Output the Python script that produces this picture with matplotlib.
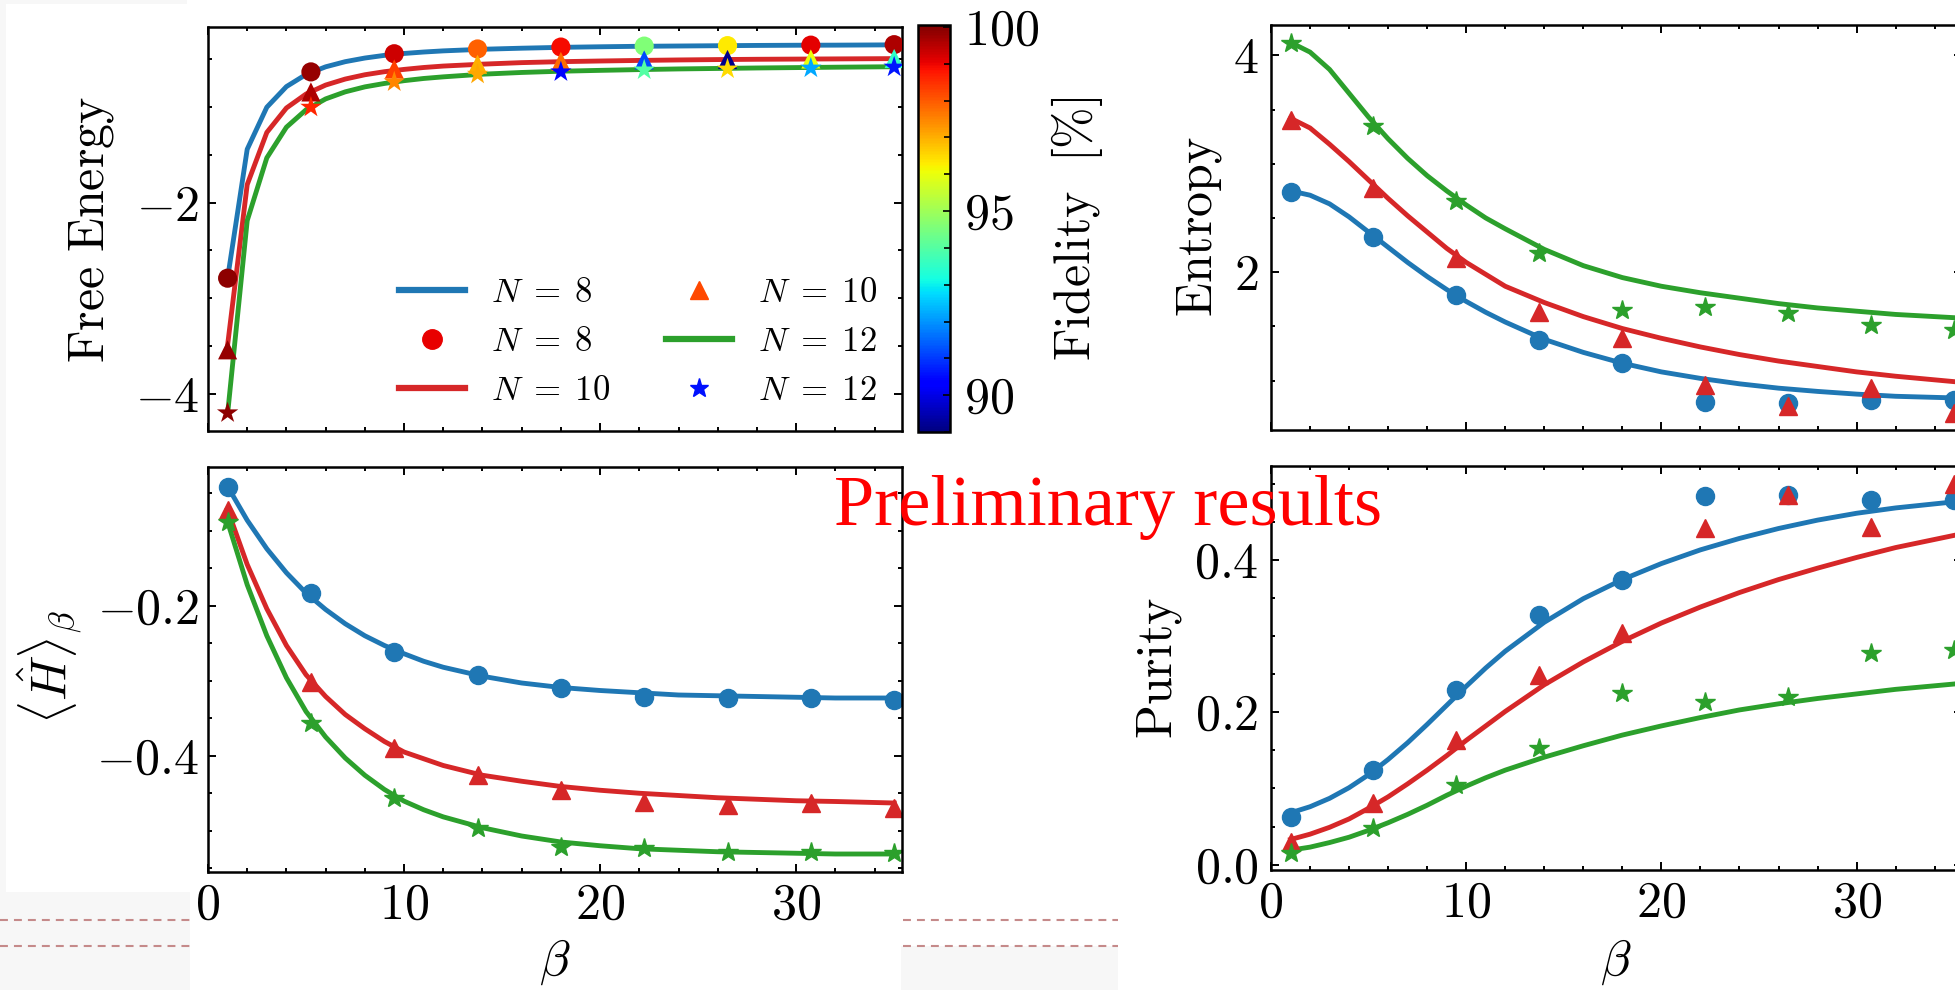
import matplotlib
matplotlib.use('Agg')
import matplotlib.pyplot as plt
from matplotlib.lines import Line2D
from matplotlib.patches import Rectangle
from matplotlib.ticker import MultipleLocator
from matplotlib.colors import Normalize

plt.rcParams['font.family'] = 'serif'
plt.rcParams['font.serif'] = ['cmr10']
plt.rcParams['mathtext.fontset'] = 'cm'
plt.rcParams['axes.formatter.use_mathtext'] = True

# ---- data ----
beta_pts = [1, 5.25, 9.5, 13.75, 18, 22.25, 26.5, 30.75, 35]
beta_line = [1, 2, 3, 4, 5, 6, 7, 8, 9, 10, 11, 12, 14, 16, 18, 20, 22, 24, 26, 28, 30, 32, 35]

# free energy (lines = exact, markers = measured)
F8_line = [-2.79, -1.44, -1.00, -0.784, -0.657, -0.577, -0.523, -0.485, -0.457, -0.437, -0.422, -0.410,
           -0.393, -0.382, -0.373, -0.367, -0.362, -0.359, -0.356, -0.353, -0.351, -0.350, -0.347]
F10_line = [-3.49, -1.81, -1.264, -1.008, -0.862, -0.768, -0.705, -0.660, -0.628, -0.604, -0.584, -0.569,
            -0.549, -0.533, -0.523, -0.516, -0.510, -0.505, -0.501, -0.498, -0.496, -0.494, -0.491]
F12_line = [-4.21, -2.187, -1.53, -1.209, -1.027, -0.913, -0.839, -0.787, -0.751, -0.722, -0.699, -0.682,
            -0.654, -0.636, -0.623, -0.614, -0.606, -0.599, -0.594, -0.589, -0.585, -0.581, -0.576]
F8_pts = [-2.79, -0.63, -0.44, -0.39, -0.37, -0.36, -0.355, -0.35, -0.345]
F10_pts = [-3.54, -0.84, -0.60, -0.55, -0.52, -0.505, -0.50, -0.495, -0.49]
F12_pts = [-4.20, -1.00, -0.735, -0.655, -0.63, -0.61, -0.60, -0.59, -0.58]

# fidelity [%] of each measured point
fid8 = [99.9, 99.8, 99.3, 97.9, 98.9, 94.6, 96.3, 99.1, 99.6]
fid10 = [99.8, 99.6, 98.3, 97.0, 97.8, 91.2, 89.1, 96.0, 93.5]
fid12 = [99.9, 98.6, 97.5, 97.1, 90.4, 94.0, 96.5, 92.2, 90.6]

# energy <H>
H8_line = [-0.041, -0.086, -0.124, -0.156, -0.183, -0.205, -0.224, -0.240, -0.253, -0.264, -0.274, -0.282,
           -0.294, -0.303, -0.309, -0.313, -0.316, -0.319, -0.320, -0.321, -0.322, -0.323, -0.323]
H10_line = [-0.072, -0.145, -0.204, -0.253, -0.292, -0.321, -0.345, -0.364, -0.381, -0.395, -0.404, -0.413,
            -0.426, -0.434, -0.441, -0.446, -0.450, -0.453, -0.456, -0.458, -0.460, -0.461, -0.463]
H12_line = [-0.088, -0.172, -0.240, -0.296, -0.341, -0.375, -0.403, -0.426, -0.445, -0.4605, -0.472, -0.4815,
            -0.496, -0.507, -0.515, -0.520, -0.524, -0.526, -0.528, -0.529, -0.530, -0.531, -0.531]
H8_pts = [-0.041, -0.183, -0.261, -0.292, -0.309, -0.322, -0.323, -0.323, -0.325]
H10_pts = [-0.072, -0.301, -0.389, -0.425, -0.445, -0.461, -0.465, -0.463, -0.47]
H12_pts = [-0.088, -0.356, -0.456, -0.496, -0.521, -0.523, -0.528, -0.528, -0.529]

# entropy
S8_line = [2.75, 2.71, 2.63, 2.51, 2.37, 2.23, 2.09, 1.96, 1.84, 1.73, 1.63, 1.54,
           1.38, 1.26, 1.16, 1.08, 1.02, 0.97, 0.93, 0.90, 0.875, 0.855, 0.84]
S10_line = [3.42, 3.33, 3.18, 3.02, 2.85, 2.68, 2.52, 2.37, 2.22, 2.09, 1.98, 1.87,
            1.72, 1.59, 1.48, 1.39, 1.31, 1.24, 1.18, 1.13, 1.08, 1.04, 0.99]
S12_line = [4.12, 4.03, 3.87, 3.65, 3.43, 3.23, 3.05, 2.89, 2.75, 2.62, 2.50, 2.40,
            2.21, 2.06, 1.95, 1.87, 1.81, 1.76, 1.71, 1.67, 1.64, 1.61, 1.58]
S8_pts = [2.74, 2.32, 1.79, 1.37, 1.16, 0.80, 0.79, 0.82, 0.82]
S10_pts = [3.40, 2.78, 2.13, 1.63, 1.39, 0.96, 0.77, 0.93, 0.70]
S12_pts = [4.11, 3.35, 2.66, 2.18, 1.65, 1.68, 1.62, 1.51, 1.47]

# purity
P8_line = [0.068, 0.076, 0.087, 0.101, 0.118, 0.138, 0.160, 0.184, 0.209, 0.234, 0.258, 0.280,
           0.318, 0.349, 0.374, 0.395, 0.413, 0.428, 0.441, 0.452, 0.461, 0.468, 0.476]
P10_line = [0.033, 0.040, 0.049, 0.060, 0.074, 0.089, 0.106, 0.124, 0.143, 0.163, 0.182, 0.201,
            0.236, 0.266, 0.293, 0.317, 0.338, 0.357, 0.374, 0.389, 0.403, 0.416, 0.432]
P12_line = [0.019, 0.023, 0.029, 0.036, 0.045, 0.055, 0.066, 0.078, 0.091, 0.103, 0.114, 0.124,
            0.141, 0.156, 0.170, 0.182, 0.193, 0.203, 0.211, 0.218, 0.224, 0.230, 0.237]
P8_pts = [0.063, 0.124, 0.229, 0.328, 0.374, 0.483, 0.485, 0.479, 0.478]
P10_pts = [0.030, 0.081, 0.164, 0.249, 0.304, 0.442, 0.485, 0.443, 0.50]
P12_pts = [0.015, 0.048, 0.105, 0.153, 0.225, 0.214, 0.22, 0.278, 0.282]

W, H = 1956, 990
fig = plt.figure(figsize=(W / 100, H / 100), dpi=100)
fig.patch.set_facecolor('white')


def box(x0, y0, x1, y1):
    return [x0 / W, 1 - y1 / H, (x1 - x0) / W, (y1 - y0) / H]


# slide background bits around the pasted figures
for (x0, y0, x1, y1) in [(0, 0, 6, 892), (0, 0, 187, 4), (0, 892, 190, 990), (901, 946, 1118, 990)]:
    fig.patches.append(Rectangle((x0 / W, 1 - y1 / H), (x1 - x0) / W, (y1 - y0) / H,
                                 transform=fig.transFigure, color='#f7f7f7', zorder=-2, lw=0))
for yy in [920, 946]:
    for (xa, xb) in [(0, 190), (903, 1118)]:
        fig.add_artist(Line2D([xa / W, xb / W], [1 - yy / H] * 2, transform=fig.transFigure,
                              color='#c58a8a', lw=1.5, ls=(0, (3.8, 2.9)), zorder=-1))


def style(ax, ymaj, ymin, pad):
    ax.set_xlim(0, 35.4)
    ax.xaxis.set_major_locator(MultipleLocator(10))
    ax.xaxis.set_minor_locator(MultipleLocator(2))
    ax.yaxis.set_major_locator(MultipleLocator(ymaj))
    ax.yaxis.set_minor_locator(MultipleLocator(ymin))
    ax.tick_params(which='both', direction='in', top=True, right=True, labelsize=36, width=1.4)
    ax.tick_params(which='major', length=6)
    ax.tick_params(which='minor', length=3.2)
    ax.tick_params(axis='y', pad=pad)
    ax.tick_params(axis='x', pad=8)
    for s in ax.spines.values():
        s.set_linewidth(1.8)


def curves(ax, l8, l10, l12, p8, p10, p12):
    ax.plot(beta_line, l8, color='tab:blue', lw=lw)
    ax.plot(beta_line, l10, color='tab:red', lw=lw)
    ax.plot(beta_line, l12, color='tab:green', lw=lw)
    ax.plot(beta_pts, p8, 'o', color='tab:blue', ms=13)
    ax.plot(beta_pts, p10, '^', color='tab:red', ms=13)
    ax.plot(beta_pts, p12, '*', color='tab:green', ms=15)


cmap = plt.get_cmap('jet')
norm = Normalize(vmin=89.0, vmax=100.05)
lw = 3.5

# ---- free energy ----
ax1 = fig.add_axes(box(208, 27, 902, 431))
ax1.plot(beta_line, F8_line, color='tab:blue', lw=lw)
ax1.plot(beta_line, F10_line, color='tab:red', lw=lw)
ax1.plot(beta_line, F12_line, color='tab:green', lw=lw)
sc = ax1.scatter(beta_pts, F8_pts, c=fid8, cmap=cmap, norm=norm, marker='o', s=190, lw=0, zorder=3)
ax1.scatter(beta_pts, F10_pts, c=fid10, cmap=cmap, norm=norm, marker='^', s=190, lw=0, zorder=3)
ax1.scatter(beta_pts, F12_pts, c=fid12, cmap=cmap, norm=norm, marker='*', s=260, lw=0, zorder=3)
ax1.set_ylim(-4.39, -0.16)
style(ax1, 2, 0.5, 6)
ax1.tick_params(labelbottom=False)
handles = [Line2D([], [], color='tab:blue', lw=4.5),
           Line2D([], [], ls='none', marker='o', ms=14, color='#e80000'),
           Line2D([], [], color='tab:red', lw=4.5),
           Line2D([], [], ls='none', marker='^', ms=13, color='#ff4800'),
           Line2D([], [], color='tab:green', lw=4.5),
           Line2D([], [], ls='none', marker='*', ms=14, color='#0010ff')]
labels = [r'$N\;=\;8$', r'$N\;=\;8$', r'$N\;=\;10$', r'$N\;=\;10$', r'$N\;=\;12$', r'$N\;=\;12$']
ax1.legend(handles, labels, loc='lower right', ncol=2, frameon=False, fontsize=25,
           handlelength=1.9, handletextpad=0.75, columnspacing=1.6, labelspacing=0.5,
           borderaxespad=0.3)

cax = fig.add_axes(box(918, 25, 950, 432))
cb = fig.colorbar(sc, cax=cax)
cb.set_ticks([90, 95, 100])
cax.yaxis.set_minor_locator(MultipleLocator(1))
cax.tick_params(which='both', direction='in', labelsize=36, width=1.2, pad=10)
cax.tick_params(which='major', length=5)
cax.tick_params(which='minor', length=4)
cb.outline.set_linewidth(1.8)

# ---- <H> ----
ax2 = fig.add_axes(box(208, 467, 902, 872))
curves(ax2, H8_line, H10_line, H12_line, H8_pts, H10_pts, H12_pts)
ax2.set_ylim(-0.555, -0.015)
style(ax2, 0.2, 0.05, 6)

# ---- entropy ----
ax3 = fig.add_axes(box(1271, 25, 1962, 430))
curves(ax3, S8_line, S10_line, S12_line, S8_pts, S10_pts, S12_pts)
ax3.set_ylim(0.544, 4.28)
style(ax3, 2, 0.5, 9)
ax3.tick_params(labelbottom=False)

# ---- purity ----
ax4 = fig.add_axes(box(1271, 466, 1962, 870))
curves(ax4, P8_line, P10_line, P12_line, P8_pts, P10_pts, P12_pts)
ax4.set_ylim(-0.007, 0.523)
style(ax4, 0.2, 0.05, 9)


# ---- axis labels ----
def label(x, y, s, rot=90):
    fig.text(x / W, 1 - y / H, s, rotation=rot, ha='center', va='center', fontsize=36)


label(92, 229, r'$\mathrm{Free\ Energy}$')
label(50, 667, r'$\langle \hat{H} \rangle_\beta$')
label(1077, 229, r'$\mathrm{Fidelity}\ \ [\%]$')
label(1200, 227, r'$\mathrm{Entropy}$')
label(1160, 668, r'$\mathrm{Purity}$')
label(555, 962, r'$\beta$', rot=0)
label(1616, 962, r'$\beta$', rot=0)

fig.text(834 / W, 1 - 525 / H, 'Preliminary results', color='red', fontsize=52,
         family=['Liberation Serif', 'DejaVu Serif'], ha='left', va='baseline')

fig.savefig('out.png', dpi=100)
